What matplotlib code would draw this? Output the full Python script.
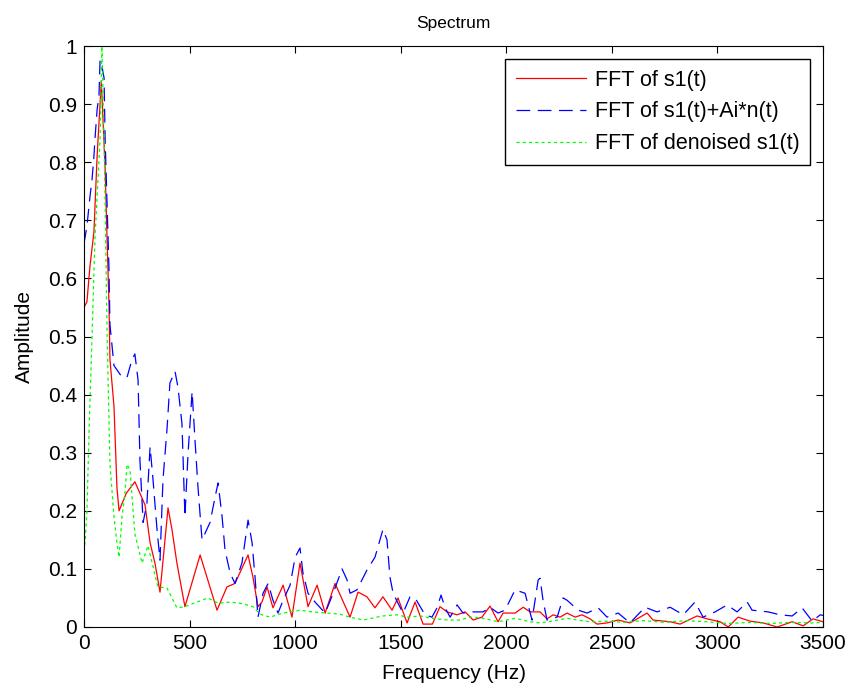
import matplotlib.pyplot as plt

plt.rcParams['font.family'] = ['Liberation Sans', 'DejaVu Sans']

# values (Hz, amplitude)
f_clean = [0, 14, 28, 47, 62, 76, 82, 100, 109, 118, 123, 142, 147, 156, 166, 200,
           241, 289, 313, 336, 360, 398, 417, 440, 478, 550, 630, 677, 715, 777, 800,
           824, 843, 867, 895, 943, 985, 1023, 1061, 1104, 1142, 1189, 1260, 1298,
           1340, 1378, 1416, 1459, 1487, 1530, 1568, 1606, 1650, 1686, 1719, 1767,
           1805, 1843, 1885, 1923, 1961, 1985, 2042, 2080, 2113, 2160, 2193, 2222,
           2255, 2288, 2326, 2359, 2397, 2430, 2477, 2530, 2586, 2667, 2695, 2776,
           2823, 2904, 2951, 3013, 3051, 3098, 3155, 3217, 3283, 3354, 3406, 3453, 3500]
a_clean = [0.55, 0.56, 0.62, 0.68, 0.81, 0.90, 0.94, 0.79, 0.67, 0.56, 0.46, 0.38,
           0.33, 0.24, 0.20, 0.23, 0.25, 0.21, 0.145, 0.11, 0.06, 0.205, 0.167, 0.11,
           0.035, 0.124, 0.029, 0.069, 0.075, 0.124, 0.086, 0.035, 0.043, 0.069,
           0.033, 0.072, 0.017, 0.11, 0.035, 0.072, 0.024, 0.075, 0.017, 0.06, 0.052,
           0.033, 0.052, 0.029, 0.05, 0.007, 0.043, 0.005, 0.005, 0.035, 0.026,
           0.021, 0.026, 0.012, 0.017, 0.036, 0.009, 0.024, 0.024, 0.034, 0.026,
           0.026, 0.014, 0.021, 0.017, 0.024, 0.017, 0.021, 0.014, 0.005, 0.007,
           0.012, 0.007, 0.024, 0.012, 0.009, 0.005, 0.019, 0.014, 0.009, 0.0,
           0.017, 0.01, 0.007, 0.0, 0.009, 0.002, 0.014, 0.009]

f_noisy = [0, 14, 28, 38, 47, 52, 62, 71, 76, 85, 95, 100, 109, 118, 123, 142, 180,
           204, 227, 241, 256, 265, 280, 298, 313, 327, 346, 360, 374, 393, 407, 431,
           445, 464, 478, 493, 512, 526, 540, 559, 597, 621, 635, 654, 668, 692, 715,
           748, 777, 796, 810, 824, 848, 872, 895, 919, 943, 976, 1000, 1023, 1037,
           1061, 1094, 1142, 1180, 1222, 1246, 1260, 1293, 1340, 1378, 1402, 1416,
           1435, 1449, 1464, 1487, 1511, 1544, 1568, 1592, 1615, 1648, 1672, 1691,
           1710, 1734, 1767, 1795, 1829, 1890, 1923, 1961, 1994, 2042, 2089, 2122,
           2151, 2160, 2174, 2193, 2241, 2269, 2288, 2340, 2383, 2435, 2477, 2530,
           2586, 2657, 2714, 2776, 2838, 2894, 2932, 2989, 3046, 3093, 3141, 3164,
           3240, 3297, 3354, 3401, 3449, 3487, 3500]
a_noisy = [0.66, 0.69, 0.74, 0.77, 0.81, 0.84, 0.89, 0.915, 0.976, 0.965, 0.945,
           0.84, 0.73, 0.62, 0.52, 0.45, 0.43, 0.43, 0.46, 0.47, 0.425, 0.287, 0.18,
           0.213, 0.31, 0.253, 0.167, 0.115, 0.253, 0.34, 0.42, 0.44, 0.413, 0.35,
           0.19, 0.30, 0.405, 0.32, 0.24, 0.15, 0.18, 0.224, 0.248, 0.19, 0.132,
           0.093, 0.075, 0.11, 0.184, 0.145, 0.086, 0.017, 0.058, 0.075, 0.046,
           0.024, 0.046, 0.072, 0.12, 0.136, 0.093, 0.058, 0.043, 0.024, 0.058, 0.10,
           0.081, 0.058, 0.064, 0.098, 0.12, 0.15, 0.168, 0.15, 0.086, 0.058, 0.041,
           0.024, 0.052, 0.05, 0.035, 0.021, 0.017, 0.033, 0.055, 0.033, 0.017,
           0.038, 0.024, 0.026, 0.026, 0.034, 0.024, 0.029, 0.064, 0.058, 0.012,
           0.081, 0.084, 0.046, 0.012, 0.017, 0.05, 0.046, 0.029, 0.024, 0.033,
           0.017, 0.024, 0.007, 0.034, 0.026, 0.034, 0.021, 0.043, 0.017, 0.026,
           0.038, 0.026, 0.043, 0.029, 0.026, 0.021, 0.019, 0.033, 0.010, 0.021, 0.02]

f_denoised = [0, 6, 14, 25, 38, 52, 76, 85, 95, 100, 109, 123, 142, 156, 166, 180, 194,
              204, 218, 241, 275, 303, 350, 393, 440, 478, 535, 587, 635, 692, 753,
              800, 834, 881, 943, 1023, 1080, 1151, 1213, 1260, 1322, 1388, 1416,
              1483, 1530, 1592, 1648, 1719, 1781, 1829, 1890, 1961, 2042, 2113, 2160,
              2198, 2288, 2335, 2397, 2492, 2550, 2650, 2750, 2850, 2950, 3050, 3150,
              3250, 3350, 3450, 3500]
a_denoised = [0.13, 0.15, 0.2, 0.35, 0.5, 0.67, 0.84, 1.0, 0.84, 0.73, 0.51, 0.28,
              0.19, 0.145, 0.12, 0.19, 0.23, 0.28, 0.27, 0.16, 0.11, 0.14, 0.069,
              0.067, 0.033, 0.035, 0.043, 0.05, 0.041, 0.043, 0.04, 0.035, 0.022,
              0.017, 0.024, 0.029, 0.026, 0.024, 0.022, 0.017, 0.012, 0.017, 0.019,
              0.021, 0.017, 0.019, 0.015, 0.012, 0.012, 0.017, 0.015, 0.009, 0.015,
              0.009, 0.007, 0.009, 0.015, 0.012, 0.009, 0.010, 0.008, 0.011, 0.008,
              0.011, 0.009, 0.006, 0.008, 0.006, 0.008, 0.007, 0.008]

fig = plt.figure(figsize=(8.51, 6.89), dpi=100)
ax = fig.add_axes([84 / 851, 1 - 627 / 689, 739 / 851, 581 / 689])

ax.plot(f_clean, a_clean, color='#ff0000', lw=0.9, label='FFT of s1(t)')
ax.plot(f_noisy, a_noisy, color='#0000ff', lw=0.9, linestyle=(0, (11, 6)),
        label='FFT of s1(t)+Ai*n(t)')
ax.plot(f_denoised, a_denoised, color='#00ff00', lw=0.9, linestyle=(0, (2.5, 2.5)),
        label='FFT of denoised s1(t)')

ax.set_xlim(0, 3500)
ax.set_ylim(0, 1)
ax.set_xticks(range(0, 3501, 500))
ax.set_yticks([i / 10 for i in range(11)])
ax.set_yticklabels(['0', '0.1', '0.2', '0.3', '0.4', '0.5', '0.6', '0.7', '0.8', '0.9', '1'])
ax.tick_params(direction='in', top=True, right=True, labelsize=15, length=5, width=0.8,
               pad=5)
ax.set_xlabel('Frequency (Hz)', fontsize=15, labelpad=8)
ax.set_ylabel('Amplitude', fontsize=15, labelpad=10)
ax.set_title('Spectrum', fontsize=12.5, pad=13)
for s in ax.spines.values():
    s.set_linewidth(0.8)

ax.legend(loc='upper right', fontsize=15.5, handlelength=3.25, fancybox=False,
          edgecolor='black', framealpha=1, borderaxespad=0.6, labelspacing=0.5,
          borderpad=0.5, handletextpad=0.4)

fig.savefig('out.png', dpi=100)
